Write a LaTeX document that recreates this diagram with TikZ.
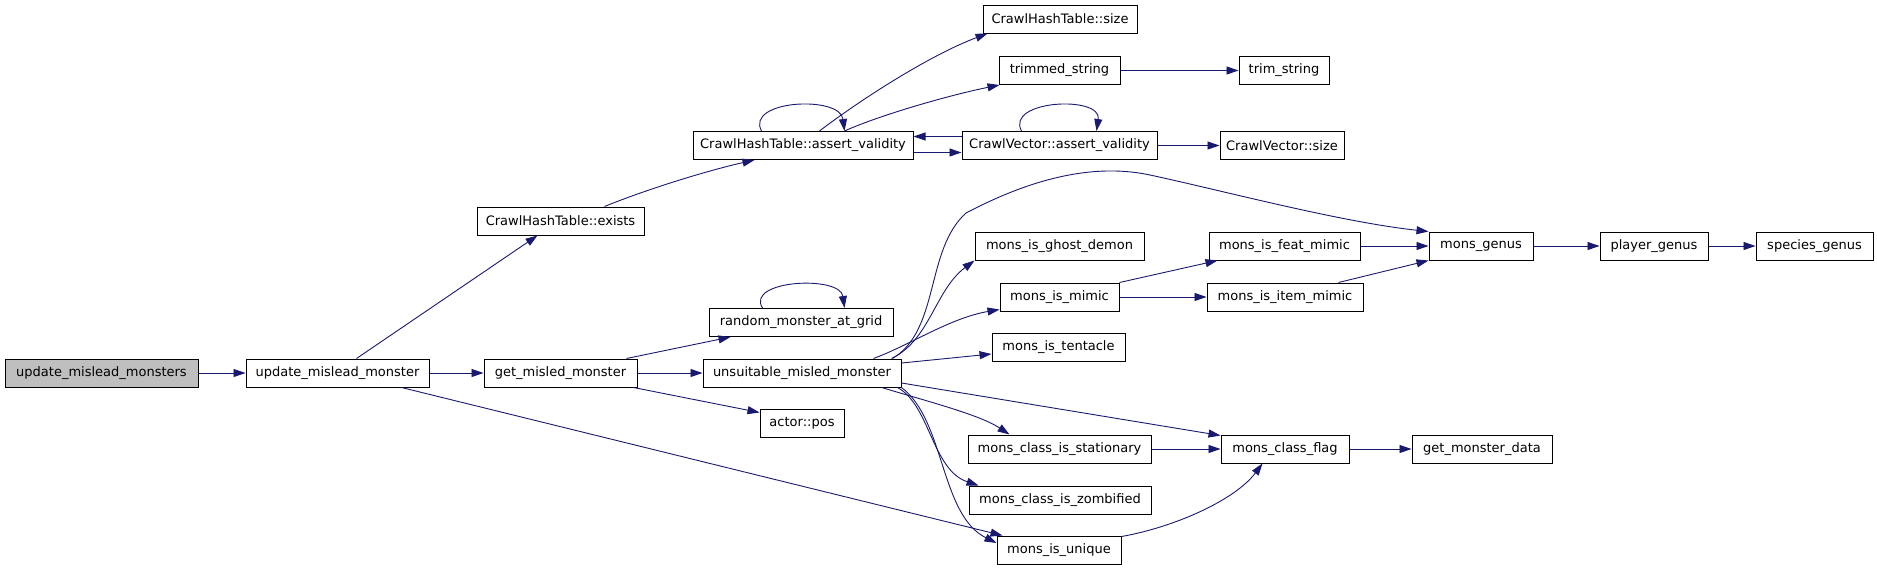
\documentclass[tikz,border=0pt]{standalone}
\usepackage{fontspec}
\setmainfont{DejaVu Sans}
\usetikzlibrary{arrows.meta}
\definecolor{edgeblue}{HTML}{191970}
\definecolor{rootgray}{HTML}{BFBFBF}
\tikzset{
  fbox/.style={draw=black, line width=1pt, fill=white, inner sep=0pt,
    minimum height=28pt, font=\fontsize{13}{15}\selectfont, anchor=center},
  rootbox/.style={fbox, fill=rootgray},
  edge/.style={draw=edgeblue, line width=0.9pt,
    -{Triangle[length=12pt,width=8pt]}}
}
\begin{document}
\begin{tikzpicture}[x=1pt,y=-1pt]
\useasboundingbox (0,0) rectangle (1877,568);
% nodes
\node[rootbox, minimum width=193pt] (umm) at (101.5,373) {update\_mislead\_monsters};
\node[fbox, minimum width=183pt] (um) at (337.5,373) {update\_mislead\_monster};
\node[fbox, minimum width=153pt] (gmm) at (560.5,373) {get\_misled\_monster};
\node[fbox, minimum width=167pt] (ex) at (560.5,221) {CrawlHashTable::exists};
\node[fbox, minimum width=220pt] (chta) at (803,145.5) {CrawlHashTable::assert\_validity};
\node[fbox, minimum width=154pt] (chts) at (1060,19) {CrawlHashTable::size};
\node[fbox, minimum width=121pt] (ts) at (1059.5,70.5) {trimmed\_string};
\node[fbox, minimum width=90pt] (trs) at (1284,70.5) {trim\_string};
\node[fbox, minimum width=195pt] (cva) at (1059.5,145.5) {CrawlVector::assert\_validity};
\node[fbox, minimum width=124pt] (cvs) at (1282,145.5) {CrawlVector::size};
\node[fbox, minimum width=184pt] (rmg) at (801,322.5) {random\_monster\_at\_grid};
\node[fbox, minimum width=198pt] (umon) at (802,373) {unsuitable\_misled\_monster};
\node[fbox, minimum width=169pt] (ghost) at (1059.5,246) {mons\_is\_ghost\_demon};
\node[fbox, minimum width=119pt] (mimic) at (1059.5,297) {mons\_is\_mimic};
\node[fbox, minimum width=133pt] (tent) at (1058.5,347) {mons\_is\_tentacle};
\node[fbox, minimum width=151pt] (feat) at (1284.5,246) {mons\_is\_feat\_mimic};
\node[fbox, minimum width=156pt] (item) at (1285,297) {mons\_is\_item\_mimic};
\node[fbox, minimum width=104pt] (genus) at (1481,246) {mons\_genus};
\node[fbox, minimum width=108pt] (pgenus) at (1654,246) {player\_genus};
\node[fbox, minimum width=117pt] (sgenus) at (1814.5,246) {species\_genus};
\node[fbox, minimum width=84pt] (pos) at (802,423) {actor::pos};
\node[fbox, minimum width=183pt] (stat) at (1059.5,449) {mons\_class\_is\_stationary};
\node[fbox, minimum width=128pt] (flag) at (1285,449) {mons\_class\_flag};
\node[fbox, minimum width=140pt] (gmd) at (1482,449) {get\_monster\_data};
\node[fbox, minimum width=182pt] (zomb) at (1060,500) {mons\_class\_is\_zombified};
\node[fbox, minimum width=124pt] (uniq) at (1059,550) {mons\_is\_unique};
% edges
\draw[edge] (umm.east) -- (um.west);
\draw[edge] ([xshift=111pt]um.north west) -- ([xshift=61pt]ex.south west);
\draw[edge] (um.east) -- (gmm.west);
\draw[edge] ([xshift=156pt]um.south west) -- ([xshift=6pt]uniq.north west);
\draw[edge] ([xshift=128pt]ex.north west) .. controls (650,188) and (710,170) .. ([xshift=62pt]chta.south west);
\draw[edge] ([xshift=69pt]chta.north west) .. controls (745,100) and (840,95) .. ([xshift=152pt]chta.north west);
\draw[edge] ([xshift=127pt]chta.north west) .. controls (860,100) and (930,55) .. ([xshift=5pt]chts.south west);
\draw[edge] ([xshift=152pt]chta.north west) .. controls (880,115) and (950,95) .. ([xshift=1pt]ts.south west);
\draw[edge] (ts.east) -- (trs.west);
\draw[edge] ([yshift=-7pt]chta.east) -- ([yshift=-7pt]cva.west);
\draw[edge] ([yshift=9pt]cva.west) -- ([yshift=9pt]chta.east);
\draw[edge] ([xshift=60pt]cva.north west) .. controls (1005,100) and (1102,95) .. ([xshift=135pt]cva.north west);
\draw[edge] (cva.east) -- (cvs.west);
\draw[edge] ([xshift=143pt]gmm.north west) -- ([xshift=22pt]rmg.south west);
\draw[edge] (gmm.east) -- (umon.west);
\draw[edge] ([xshift=150pt]gmm.south west) -- ([yshift=-4pt]pos.north west);
\draw[edge] ([xshift=54pt]rmg.north west) .. controls (745,280) and (840,275) .. ([xshift=136pt]rmg.north west);
\draw[edge] ([xshift=190pt]umon.north west) .. controls (940,330) and (925,250) .. (966,213)
  .. controls (1010,190) and (1080,160) .. (1150,175)
  .. controls (1220,190) and (1340,222) .. (genus.north west);
\draw[edge] ([xshift=189pt]umon.north west) .. controls (930,340) and (935,290) .. (ghost.south west);
\draw[edge] ([xshift=171pt]umon.north west) .. controls (910,345) and (950,318) .. ([yshift=2pt]mimic.south west);
\draw[edge] ([yshift=10pt]umon.east) -- ([yshift=-7pt]tent.west);
\draw[edge] ([yshift=-10pt]umon.east) -- ([yshift=-1pt]flag.north west);
\draw[edge] ([xshift=-20pt]umon.south east) .. controls (930,402) and (980,415) .. ([xshift=42pt]stat.north west);
\draw[edge] ([xshift=-4pt]umon.south east) .. controls (930,405) and (932,470) .. ([xshift=10pt]zomb.north west);
\draw[edge] (umon.south east) .. controls (945,420) and (940,515) .. ([yshift=7pt]uniq.west);
\draw[edge] (stat.east) -- (flag.west);
\draw[edge] (flag.east) -- (gmd.west);
\draw[edge] ([yshift=-1pt]uniq.north east) .. controls (1175,527) and (1235,500) .. ([xshift=42pt]flag.south west);
\draw[edge] (mimic.north east) -- ([xshift=9pt]feat.south west);
\draw[edge] (mimic.east) -- (item.west);
\draw[edge] (feat.east) -- (genus.west);
\draw[edge] ([xshift=-25pt]item.north east) -- (genus.south west);
\draw[edge] (genus.east) -- (pgenus.west);
\draw[edge] (pgenus.east) -- (sgenus.west);
\end{tikzpicture}
\end{document}
